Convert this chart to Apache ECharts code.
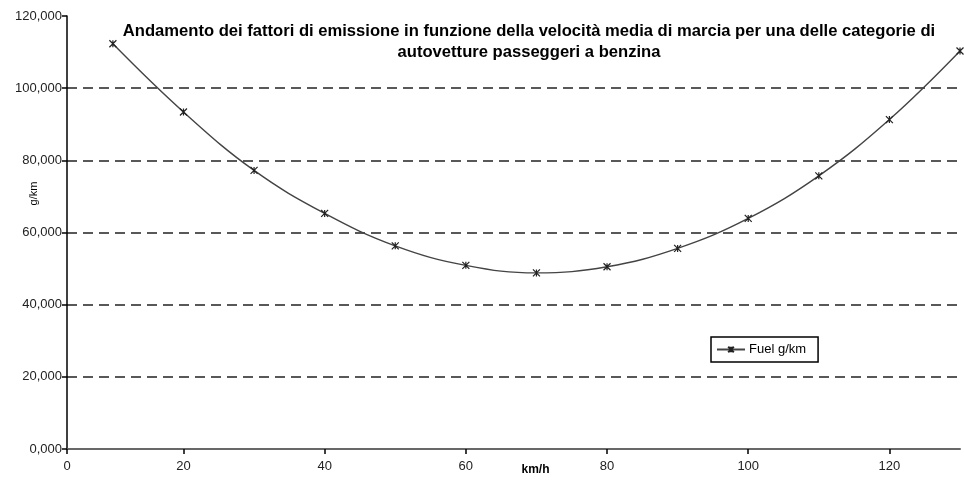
<!DOCTYPE html>
<html><head><meta charset="utf-8">
<script src="https://cdn.jsdelivr.net/npm/echarts@6/dist/echarts.min.js"></script>
<style>html,body{margin:0;padding:0;background:#fff}#c{width:964px;height:480px}</style>
</head><body><div id="c"></div>
<script>
const speeds = [10, 20, 30, 40, 50, 60, 70, 80, 90, 100, 110, 120, 130];
const fuel = [112.3, 93.4, 77.2, 65.3, 56.3, 50.9, 48.8, 50.5, 55.6, 63.9, 75.7, 91.3, 110.3];
const xTickValues = [3.5, 20, 40, 60, 80, 100, 120];
const xTickLabels = ['0', '20', '40', '60', '80', '100', '120'];
const titleText = 'Andamento dei fattori di emissione in funzione della velocità media di marcia per una delle categorie di\nautovetture passeggeri a benzina';
const seriesName = 'Fuel g/km';

const star = 'path://M0,0L10,10M10,0L0,10M5,0L5,10';
const chart = echarts.init(document.getElementById('c'));
chart.setOption({
  backgroundColor: '#fff',
  animation: false,
  textStyle: { fontFamily: 'Liberation Sans, Arial, sans-serif' },
  title: {
    text: titleText,
    left: 524, top: 16, textAlign: 'center',
    textStyle: { fontSize: 16.6, fontWeight: 'bold', color: '#000', lineHeight: 21, fontFamily: 'Liberation Sans' }
  },
  legend: {
    data: [seriesName],
    left: 711, top: 337,
    orient: 'vertical',
    borderColor: '#000', borderWidth: 1.5, borderRadius: 0,
    padding: [6, 12, 6, 5],
    itemWidth: 28, itemHeight: 7, itemGap: 4,
    textStyle: { fontSize: 13, color: '#000', padding: [0, 0, 0, -1] }
  },
  grid: { left: 67, right: 4, top: 16, bottom: 31, containLabel: false, outerBoundsMode: 'none' },
  xAxis: [{
    type: 'value', min: 3.5, max: 130,
    name: 'km/h', nameLocation: 'middle', nameGap: 15, nameMoveOverlap: false,
    nameTextStyle: { fontWeight: 'bold', fontSize: 12, color: '#000', padding: [0, 0, 0, 44] },
    axisLine: { show: true, onZero: false, lineStyle: { color: '#000', width: 1.5 } },
    axisTick: { show: true, length: 5, customValues: xTickValues, lineStyle: { color: '#000', width: 1.5 } },
    axisLabel: {
      customValues: xTickValues, fontSize: 13, color: '#222', margin: 11,
      formatter: function (v) { const i = xTickValues.indexOf(v); return i >= 0 ? xTickLabels[i] : ''; }
    },
    splitLine: { show: false }
  }, {
    type: 'value', min: 3.5, max: 130, position: 'top',
    axisLine: { show: true, lineStyle: { color: '#777', width: 1.5 } },
    axisTick: { show: false }, axisLabel: { show: false }, splitLine: { show: false }
  }],
  yAxis: {
    type: 'value', min: 0, max: 120, interval: 20,
    name: 'g/km', nameLocation: 'middle', nameGap: 28, nameRotate: 90, nameMoveOverlap: false,
    nameTextStyle: { fontSize: 11, color: '#000', padding: [0, 0, 0, 78] },
    axisLine: { show: true, lineStyle: { color: '#000', width: 1.5 } },
    axisTick: { show: true, length: 5, lineStyle: { color: '#000', width: 1.5 } },
    axisLabel: {
      fontSize: 13, color: '#222', margin: 5,
      formatter: function (v) { return v.toFixed(3).replace('.', ','); }
    },
    splitLine: { show: true, showMaxLine: false, showMinLine: false, lineStyle: { color: '#222', type: [10, 6], width: 1.5 } }
  },
  series: [{
    name: seriesName,
    type: 'line',
    data: speeds.map((s, i) => [s, fuel[i]]),
    smooth: 0.4,
    symbol: star, symbolSize: 7,
    lineStyle: { color: '#444', width: 1.4 },
    itemStyle: { color: 'none', borderColor: '#222', borderWidth: 1.2 }
  }]
});
</script></body></html>
